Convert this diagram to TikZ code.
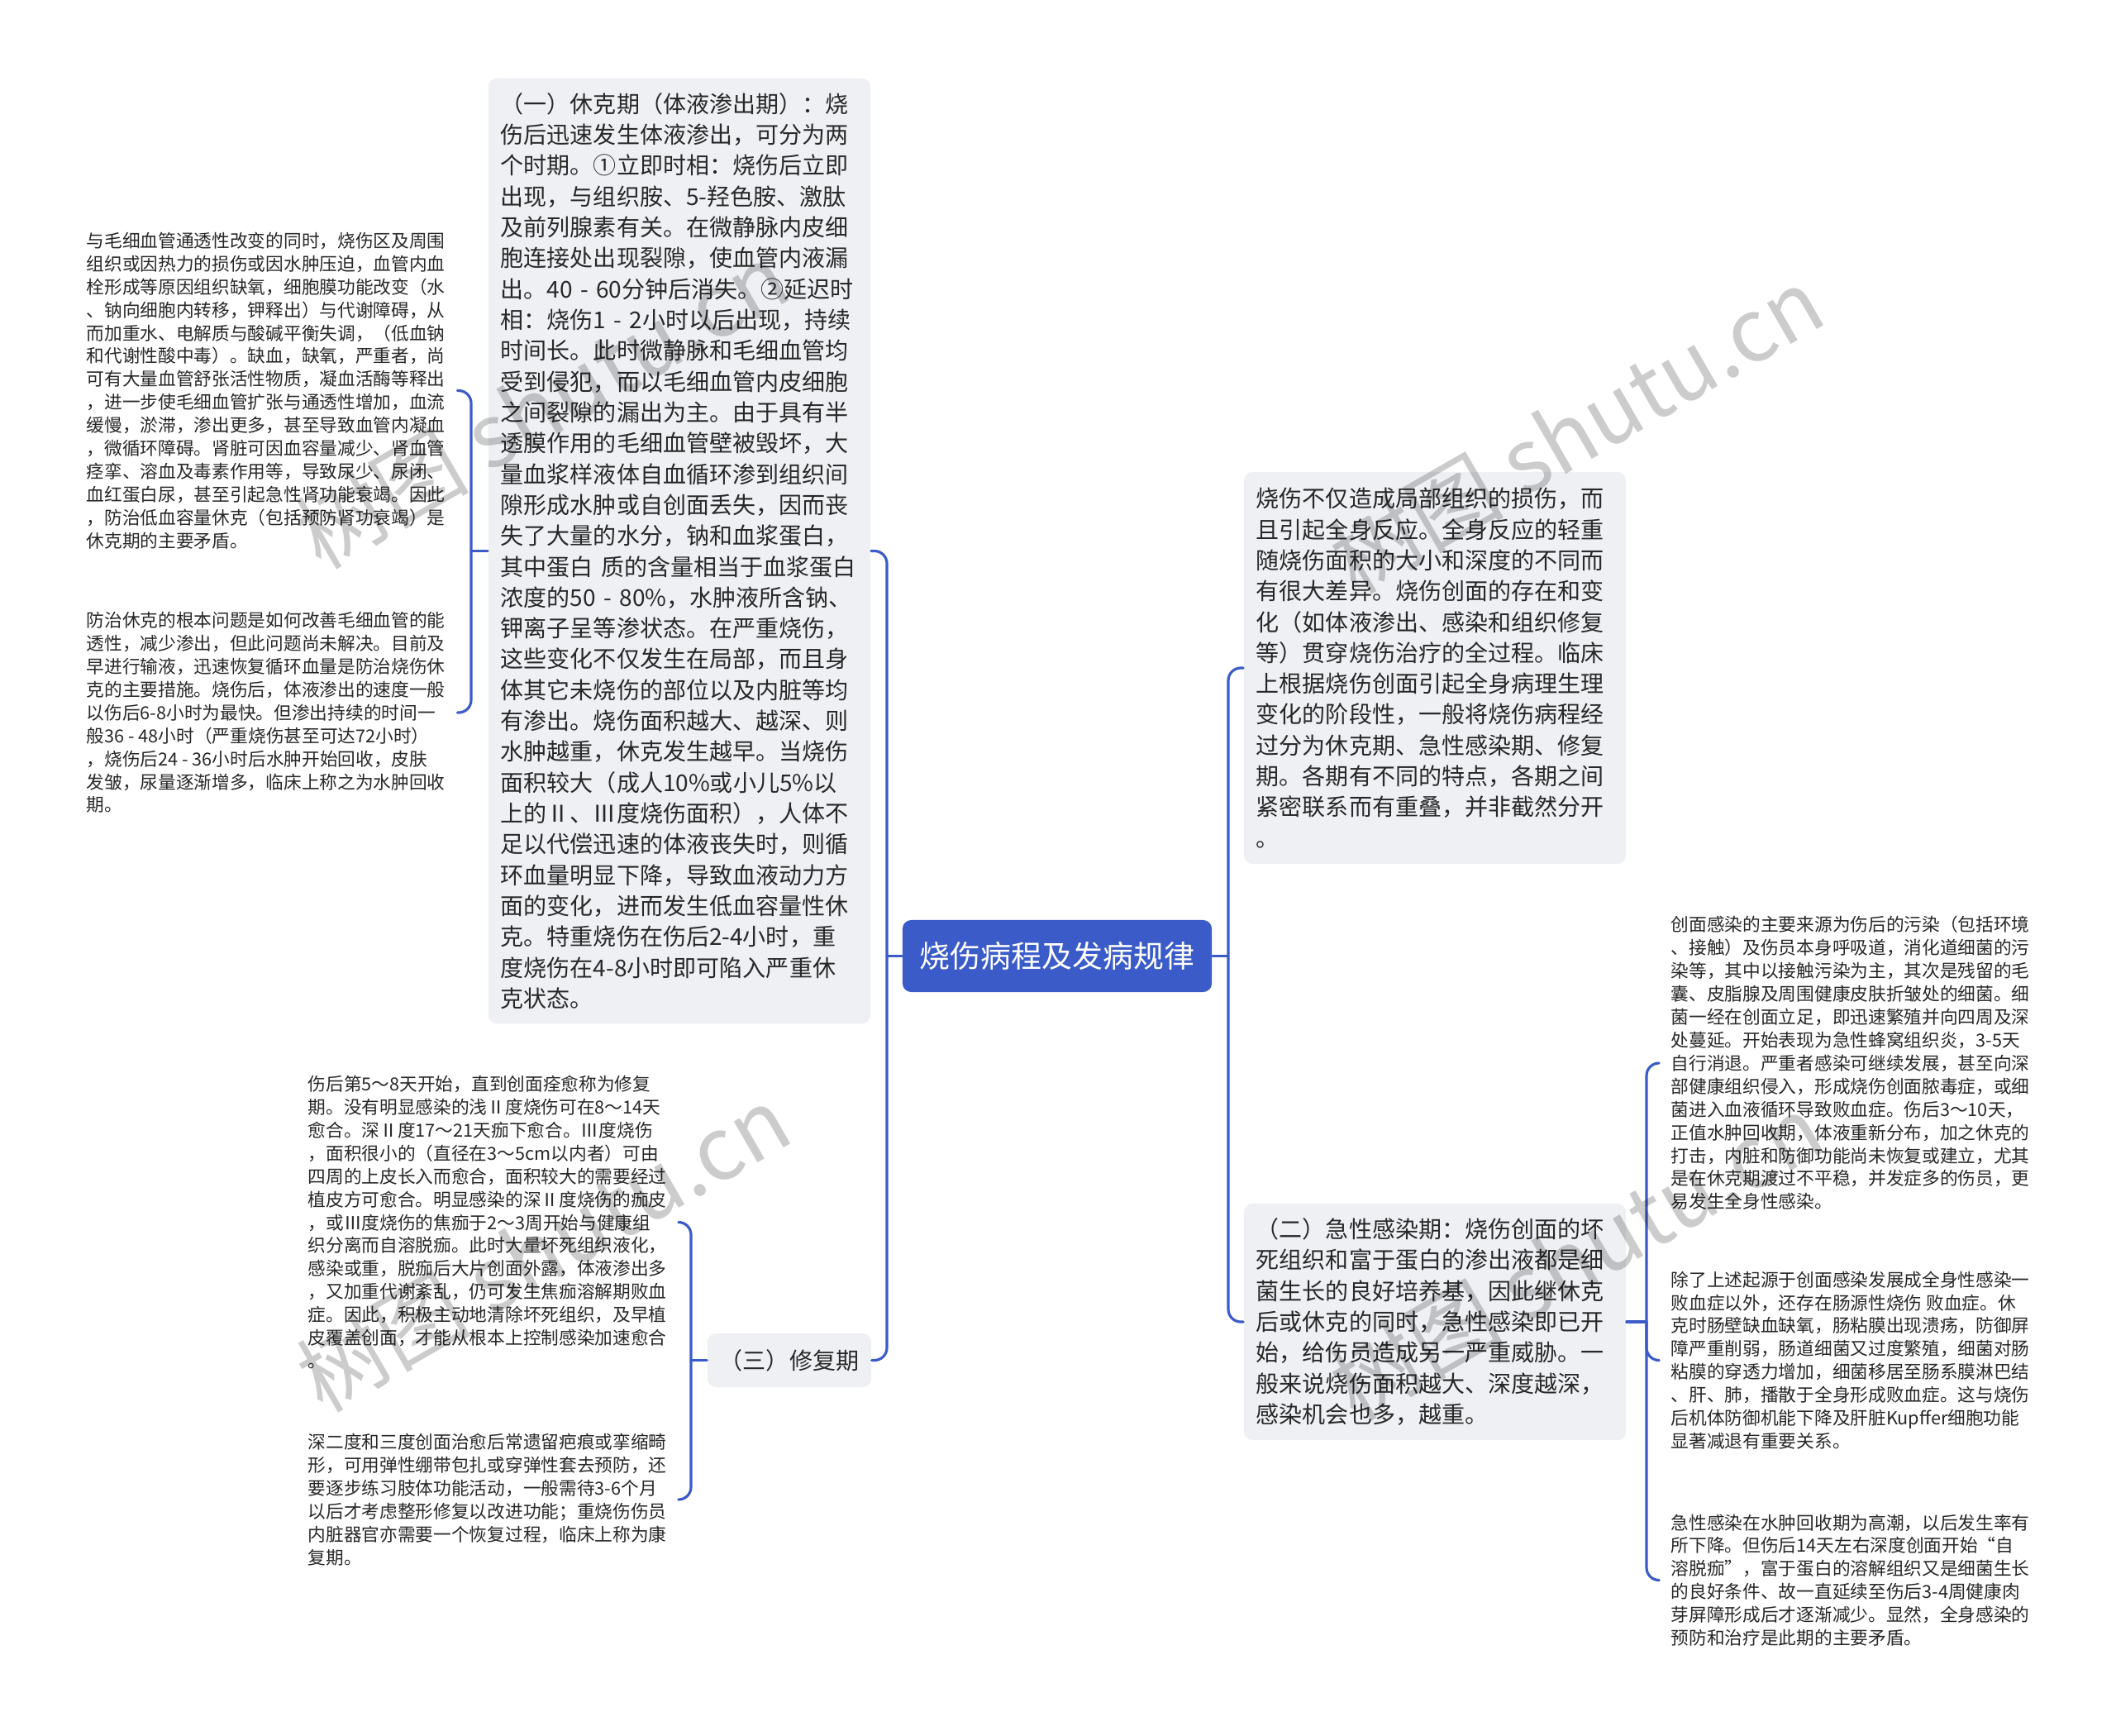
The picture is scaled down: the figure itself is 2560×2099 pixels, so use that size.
\documentclass[tikz,border=0pt]{standalone}
\usepackage{fontspec}
\setmainfont{Noto Sans CJK SC}
\definecolor{rootblue}{RGB}{59,91,200}
\definecolor{boxgray}{RGB}{238,240,244}
\definecolor{inkgray}{RGB}{40,40,40}
\begin{document}
\begin{tikzpicture}[x=0.01cm,y=-0.01cm,line join=round,line cap=round,
	link/.style={rootblue,line width=0.9pt,rounded corners=4.3pt},
	topic/.style={fill=boxgray,rounded corners=3pt,text=inkgray,align=left,inner xsep=0.15cm,inner ysep=0pt,font=\fontsize{7.97pt}{10.61pt}\selectfont},
	leaf/.style={text=inkgray,align=left,inner xsep=0.14cm,inner ysep=0pt,font=\fontsize{6.17pt}{7.94pt}\selectfont},
	wmark/.style={rotate=30,text=black,text opacity=0.2,font=\fontsize{30pt}{30pt}\selectfont}]
	\path[fill=white,use as bounding box] (0,0) rectangle (2560,2099);
	\node[fill=rootblue,text=white,rounded corners=3pt,minimum width=3.74cm,minimum height=0.87cm,font=\fontsize{10.5pt}{12pt}\selectfont] (root) at (1279,1156.5) {烧伤病程及发病规律};
	\node[topic,text width=4.32cm,minimum height=11.43cm] (shock) at (822,666.5) {（一）休克期（体液渗出期）：烧\\
伤后迅速发生体液渗出，可分为两\\
个时期。①立即时相：烧伤后立即\\
出现，与组织胺、5-羟色胺、激肽\\
及前列腺素有关。在微静脉内皮细\\
胞连接处出现裂隙，使血管内液漏\\
出。40 - 60分钟后消失。②延迟时\\
相：烧伤1 - 2小时以后出现，持续\\
时间长。此时微静脉和毛细血管均\\
受到侵犯，而以毛细血管内皮细胞\\
之间裂隙的漏出为主。由于具有半\\
透膜作用的毛细血管壁被毁坏，大\\
量血浆样液体自血循环渗到组织间\\
隙形成水肿或自创面丢失，因而丧\\
失了大量的水分，钠和血浆蛋白，\\
其中蛋白 质的含量相当于血浆蛋白\\
浓度的50 - 80\%，水肿液所含钠、\\
钾离子呈等渗状态。在严重烧伤，\\
这些变化不仅发生在局部，而且身\\
体其它未烧伤的部位以及内脏等均\\
有渗出。烧伤面积越大、越深、则\\
水肿越重，休克发生越早。当烧伤\\
面积较大（成人10\%或小儿5\%以\\
上的Ⅱ、Ⅲ度烧伤面积），人体不\\
足以代偿迅速的体液丧失时，则循\\
环血量明显下降，导致血液动力方\\
面的变化，进而发生低血容量性休\\
克。特重烧伤在伤后2-4小时，重\\
度烧伤在4-8小时即可陷入严重休\\
克状态。};
	\node[topic,align=center,minimum width=1.96cm,minimum height=0.65cm] (repair) at (955,1645.5) {（三）修复期};
	\node[topic,text width=4.32cm,minimum height=4.74cm] (intro) at (1736,808) {烧伤不仅造成局部组织的损伤，而\\
且引起全身反应。全身反应的轻重\\
随烧伤面积的大小和深度的不同而\\
有很大差异。烧伤创面的存在和变\\
化（如体液渗出、感染和组织修复\\
等）贯穿烧伤治疗的全过程。临床\\
上根据烧伤创面引起全身病理生理\\
变化的阶段性，一般将烧伤病程经\\
过分为休克期、急性感染期、修复\\
期。各期有不同的特点，各期之间\\
紧密联系而有重叠，并非截然分开\\
。};
	\node[topic,text width=4.32cm,minimum height=2.86cm] (infect) at (1736,1599) {（二）急性感染期：烧伤创面的坏\\
死组织和富于蛋白的渗出液都是细\\
菌生长的良好培养基，因此继休克\\
后或休克的同时，急性感染即已开\\
始，给伤员造成另一严重威胁。一\\
般来说烧伤面积越大、深度越深，\\
感染机会也多，越重。};
	\node[leaf,anchor=west] (edema) at (90,472.5) {与毛细血管通透性改变的同时，烧伤区及周围\\
组织或因热力的损伤或因水肿压迫，血管内血\\
栓形成等原因组织缺氧，细胞膜功能改变（水\\
、钠向细胞内转移，钾释出）与代谢障碍，从\\
而加重水、电解质与酸碱平衡失调，（低血钠\\
和代谢性酸中毒）。缺血，缺氧，严重者，尚\\
可有大量血管舒张活性物质，凝血活酶等释出\\
，进一步使毛细血管扩张与通透性增加，血流\\
缓慢，淤滞，渗出更多，甚至导致血管内凝血\\
，微循环障碍。肾脏可因血容量减少、肾血管\\
痉挛、溶血及毒素作用等，导致尿少、尿闭、\\
血红蛋白尿，甚至引起急性肾功能衰竭。因此\\
，防治低血容量休克（包括预防肾功衰竭）是\\
休克期的主要矛盾。};
	\node[leaf,anchor=west] (prevent) at (90,862) {防治休克的根本问题是如何改善毛细血管的能\\
透性，减少渗出，但此问题尚未解决。目前及\\
早进行输液，迅速恢复循环血量是防治烧伤休\\
克的主要措施。烧伤后，体液渗出的速度一般\\
以伤后6-8小时为最快。但渗出持续的时间一\\
般36 - 48小时（严重烧伤甚至可达72小时）\\
，烧伤后24 - 36小时后水肿开始回收，皮肤\\
发皱，尿量逐渐增多，临床上称之为水肿回收\\
期。};
	\node[leaf,anchor=west] (heal) at (358,1478.5) {伤后第5～8天开始，直到创面痊愈称为修复\\
期。没有明显感染的浅Ⅱ度烧伤可在8～14天\\
愈合。深Ⅱ度17～21天痂下愈合。Ⅲ度烧伤\\
，面积很小的（直径在3～5cm以内者）可由\\
四周的上皮长入而愈合，面积较大的需要经过\\
植皮方可愈合。明显感染的深Ⅱ度烧伤的痂皮\\
，或Ⅲ度烧伤的焦痂于2～3周开始与健康组\\
织分离而自溶脱痂。此时大量坏死组织液化，\\
感染或重，脱痂后大片创面外露，体液渗出多\\
，又加重代谢紊乱，仍可发生焦痂溶解期败血\\
症。因此，积极主动地清除坏死组织，及早植\\
皮覆盖创面，才能从根本上控制感染加速愈合\\
。};
	\node[leaf,anchor=west] (rehab) at (358,1814) {深二度和三度创面治愈后常遗留疤痕或挛缩畸\\
形，可用弹性绷带包扎或穿弹性套去预防，还\\
要逐步练习肢体功能活动，一般需待3-6个月\\
以后才考虑整形修复以改进功能；重烧伤伤员\\
内脏器官亦需要一个恢复过程，临床上称为康\\
复期。};
	\node[leaf,anchor=west] (source) at (2007,1286) {创面感染的主要来源为伤后的污染（包括环境\\
、接触）及伤员本身呼吸道，消化道细菌的污\\
染等，其中以接触污染为主，其次是残留的毛\\
囊、皮脂腺及周围健康皮肤折皱处的细菌。细\\
菌一经在创面立足，即迅速繁殖并向四周及深\\
处蔓延。开始表现为急性蜂窝组织炎，3-5天\\
自行消退。严重者感染可继续发展，甚至向深\\
部健康组织侵入，形成烧伤创面脓毒症，或细\\
菌进入血液循环导致败血症。伤后3～10天，\\
正值水肿回收期，体液重新分布，加之休克的\\
打击，内脏和防御功能尚未恢复或建立，尤其\\
是在休克期渡过不平稳，并发症多的伤员，更\\
易发生全身性感染。};
	\node[leaf,anchor=west] (sepsis) at (2007,1645.5) {除了上述起源于创面感染发展成全身性感染一\\
败血症以外，还存在肠源性烧伤 败血症。休\\
克时肠壁缺血缺氧，肠粘膜出现溃疡，防御屏\\
障严重削弱，肠道细菌又过度繁殖，细菌对肠\\
粘膜的穿透力增加，细菌移居至肠系膜淋巴结\\
、肝、肺，播散于全身形成败血症。这与烧伤\\
后机体防御机能下降及肝脏Kupffer细胞功能\\
显著减退有重要关系。};
	\node[leaf,anchor=west] (late) at (2007,1911.5) {急性感染在水肿回收期为高潮，以后发生率有\\
所下降。但伤后14天左右深度创面开始“自\\
溶脱痂”，富于蛋白的溶解组织又是细菌生长\\
的良好条件、故一直延续至伤后3-4周健康肉\\
芽屏障形成后才逐渐减少。显然，全身感染的\\
预防和治疗是此期的主要矛盾。};
	\coordinate (lj) at (1073,1156.5);
	\coordinate (rj) at (1486,1156.5);
	\coordinate (sj) at (570,666.5);
	\coordinate (pj) at (836,1645.5);
	\coordinate (ij) at (1992,1599);
	\draw[link] (root.west) -- (lj);
	\draw[link] (shock.east) -| (lj) |- (repair.east);
	\draw[link] (root.east) -- (rj);
	\draw[link] (intro.west) -| (rj) |- (infect.west);
	\draw[link] (shock.west) -- (sj);
	\draw[link] (edema.east) -| (sj) |- (prevent.east);
	\draw[link] (repair.west) -- (pj);
	\draw[link] (heal.east) -| (pj) |- (rehab.east);
	\draw[link] (infect.east) -- (ij);
	\draw[link] (source.west) -| (ij) |- (late.west);
	\draw[link] (ij) |- (sepsis.west);
	\foreach \wx/\wy [count=\i] in {655/490,1907/520,657/1510,1907/1520}
		\node[wmark] (wm\i) at (\wx,\wy) {树图 shutu.cn};
\end{tikzpicture}
\end{document}
